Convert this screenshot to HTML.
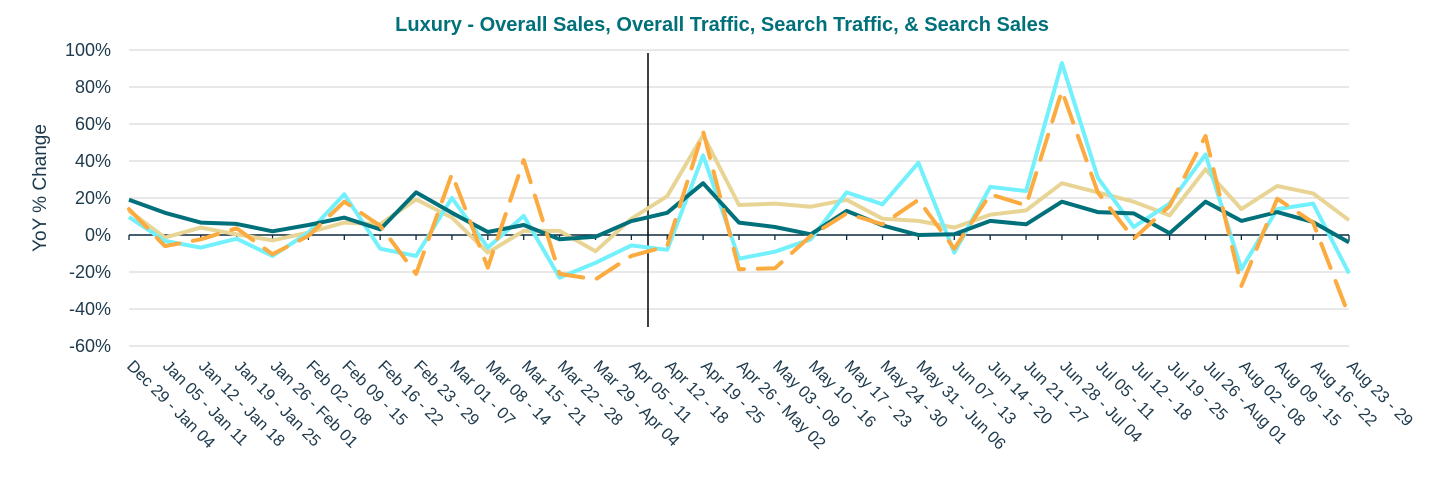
<!DOCTYPE html>
<html><head><meta charset="utf-8"><style>
body{margin:0;background:#fff;}
svg{display:block;font-family:"Liberation Sans",Arial,sans-serif;}
</style></head><body>
<svg id="chart" width="1442" height="490" viewBox="0 0 1442 490" xmlns="http://www.w3.org/2000/svg">
<text x="722" y="31" text-anchor="middle" font-size="20" font-weight="bold" fill="#00707a">Luxury - Overall Sales, Overall Traffic, Search Traffic, &amp; Search Sales</text>
<text transform="translate(46,188) rotate(-90)" text-anchor="middle" font-size="19" fill="#1e3a4c">YoY % Change</text>
<g id="grid"></g><g id="ylab"></g><g id="xlab"></g><g id="series"></g>
</svg>
<script>
const categories=["Dec 29 - Jan 04","Jan 05 - Jan 11","Jan 12 - Jan 18","Jan 19 - Jan 25","Jan 26 - Feb 01","Feb 02 - 08","Feb 09 - 15","Feb 16 - 22","Feb 23 - 29","Mar 01 - 07","Mar 08 - 14","Mar 15 - 21","Mar 22 - 28","Mar 29 - Apr 04","Apr 05 - 11","Apr 12 - 18","Apr 19 - 25","Apr 26 - May 02","May 03 - 09","May 10 - 16","May 17 - 23","May 24 - 30","May 31 - Jun 06","Jun 07 - 13","Jun 14 - 20","Jun 21 - 27","Jun 28 - Jul 04","Jul 05 - 11","Jul 12 - 18","Jul 19 - 25","Jul 26 - Aug 01","Aug 02 - 08","Aug 09 - 15","Aug 16 - 22","Aug 23 - 29"];
const overallSales=[19,12,6.7,6,2,5.4,9.4,3,23,12,1.6,5.4,-2.3,-1,7.5,12,28,6.7,4.3,0.4,13,5.2,0,0.4,7.6,5.8,18,12.4,11.7,1,18,7.6,12.4,7,-4];
const overallTraffic=[13,-1.4,4,0.4,-2.9,1.3,6.7,5.8,19.3,9.4,-9.5,2.2,2.2,-8.8,8.8,21,54,16.2,17,15.3,19,8.8,7.6,4,11,13.3,28,23,18,10.6,35.5,14,26.5,22.5,8];
const searchTraffic=[9.7,-3.2,-6.8,-2,-11.3,1.3,22,-7.4,-11.3,20,-6.8,10.3,-23,-15,-5.6,-8,43,-12.8,-9,-2.3,23,16.6,39,-9.5,26,23.8,93,31,4.3,17,43.5,-18.5,14,17,-20.7];
const searchSales=[14,-6,-2.3,3.6,-10.4,-0.5,18,5,-21,33,-17.6,40.5,-21,-24,-11.3,-6,56,-18.5,-18,-0.5,11.7,5.8,19,-7.4,22,16,78,23,-2,15.7,53.5,-27.5,19.6,6.7,-43.7];
const yTicks=[100,80,60,40,20,0,-20,-40,-60];
const NS="http://www.w3.org/2000/svg";
const x0=129,x1=1349,yTop=50,yBot=346;
function xs(i){return x0+(x1-x0)*i/(categories.length-1);}
function ys(v){return yTop+(100-v)*(yBot-yTop)/160;}
function mk(tag,attrs,parent){const e=document.createElementNS(NS,tag);for(const k in attrs)e.setAttribute(k,attrs[k]);parent.appendChild(e);return e;}
const grid=document.getElementById('grid'),ylab=document.getElementById('ylab'),xlab=document.getElementById('xlab'),ser=document.getElementById('series');
yTicks.forEach(t=>{
  if(t!==0){const l=mk('line',{x1:x0,x2:x1,y1:ys(t),y2:ys(t),stroke:'#d9d9d9','stroke-width':1.3},grid);
  
  }
  const tx=mk('text',{x:111,y:ys(t)+6,'text-anchor':'end','font-size':18,fill:'#1e3a4c'},ylab);
  tx.textContent=t+'%';
  
  
});
const axis=mk('line',{x1:x0,x2:x1,y1:ys(0),y2:ys(0),stroke:'#0e2a3e','stroke-width':1.5},grid);


categories.forEach((c,i)=>{
  const tk=mk('line',{x1:xs(i),x2:xs(i),y1:ys(0),y2:ys(0)+5,stroke:'#0e2a3e','stroke-width':1.3},grid);
  
  
  const tx=mk('text',{transform:`translate(${xs(i)-3},${ys(0)+132}) rotate(45)`,'font-size':16.5,fill:'#1e3a4c','text-anchor':'start'},xlab);
  tx.textContent=c;
  
  
});
const vl=mk('line',{x1:648,x2:648,y1:53,y2:327,stroke:'#111','stroke-width':1.6},ser);


function line(vals,color,w,dash,name){
  const p=mk('polyline',{points:vals.map((v,i)=>xs(i).toFixed(1)+','+ys(v).toFixed(1)).join(' '),fill:'none',stroke:color,'stroke-width':w,'stroke-linejoin':'round','stroke-linecap':dash?'round':'butt'},ser);
  if(dash)p.setAttribute('stroke-dasharray',dash);
  
  
}
line(overallTraffic,'#e8d595',4,null,'overall-traffic-line');
line(searchTraffic,'#72f0fb',4,null,'search-traffic-line');
line(overallSales,'#00707a',4,null,'overall-sales-line');
line(searchSales,'#fbab3f',4,'26 14','search-sales-line');
</script>
</body></html>
